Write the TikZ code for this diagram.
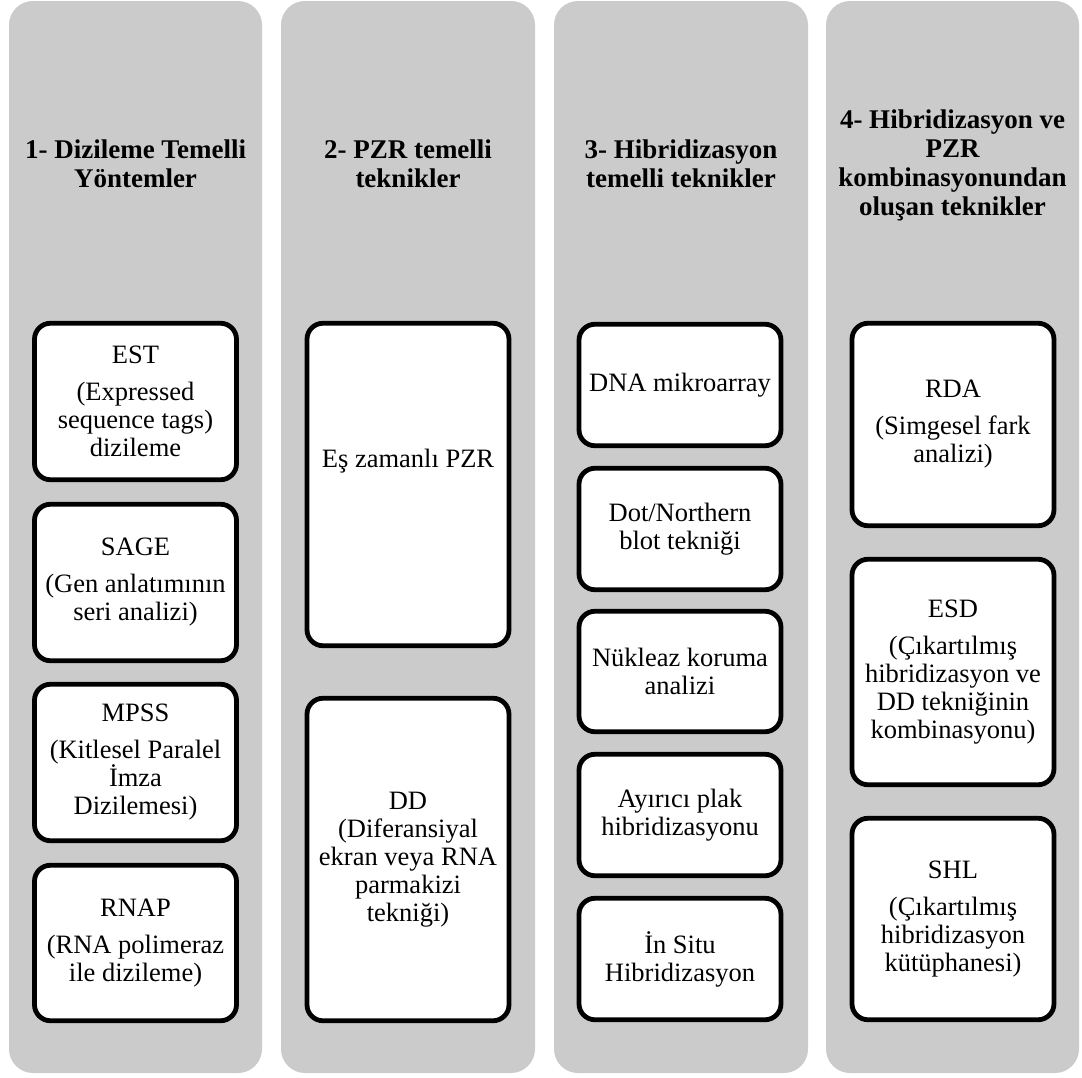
\documentclass[tikz,border=0pt]{standalone}
\usepackage{fontspec}
\setmainfont{Liberation Serif}
\definecolor{colgray}{RGB}{203,203,203}
\tikzset{
  colbox/.style={fill=colgray, rounded corners=24pt},
  item/.style={draw=black, fill=white, line width=4.8pt, rounded corners=16pt,
    inner sep=0pt, minimum width=202pt, align=center,
    font=\fontsize{26.5}{28}\selectfont},
  head/.style={align=center, font=\fontsize{27}{29}\selectfont\bfseries, inner sep=0pt},
  plain/.style={align=center, font=\fontsize{26.5}{28}\selectfont, inner sep=0pt}
}
\begin{document}
\begin{tikzpicture}[x=1pt,y=-1pt]
\useasboundingbox (0,0) rectangle (1082,1077);
% columns
\path[colbox] (9,1) rectangle (262,1073);
\path[colbox] (281,1) rectangle (535,1073);
\path[colbox] (554,1) rectangle (808,1073);
\path[colbox] (826,1) rectangle (1079,1073);
% headers
\node[head] (h1) at (135.5,164) {1- Dizileme Temelli\\Yöntemler};
\node[head] (h2) at (408,164) {2- PZR temelli\\teknikler};
\node[head] (h3) at (681,164) {3- Hibridizasyon\\temelli teknikler};
\node[head] (h4) at (952.5,165) {4- Hibridizasyon ve\\PZR\\kombinasyonundan\\oluşan teknikler};
% column 1
\node[item, minimum height=156.5pt] (est) at (135.5,401.5) {EST\\[9pt](Expressed\\sequence tags)\\dizileme};
\node[item, minimum height=156.5pt] (sage) at (135.5,582.5) {SAGE\\[9pt](Gen anlatımının\\seri analizi)};
\node[item, minimum height=156.5pt] (mpss) at (135.5,762.5) {MPSS\\[9pt](Kitlesel Paralel\\İmza\\Dizilemesi)};
\node[item, minimum height=155.5pt] (rnap) at (135.5,943) {RNAP\\[9pt](RNA polimeraz\\ile dizileme)};
% column 2
\node[item, minimum height=322.5pt] (ez) at (408,484.5) {};
\node[plain] (ezt) at ([yshift=23pt]ez.center) {Eş zamanlı PZR};
\node[item, minimum height=322.5pt] (dd) at (408,859.5) {DD\\(Diferansiyal\\ekran veya RNA\\parmakizi\\tekniği)};
% column 3
\node[item, minimum height=121.5pt] (dna) at (680,385) {DNA mikroarray};
\node[item, minimum height=121.5pt] (dot) at (680,529) {Dot/Northern\\blot tekniği};
\node[item, minimum height=120.5pt] (nuk) at (680,671.5) {Nükleaz koruma\\analizi};
\node[item, minimum height=121.5pt] (ayr) at (680,815) {Ayırıcı plak\\hibridizasyonu};
\node[item, minimum height=121.5pt] (ins) at (680,959) {İn Situ\\Hibridizasyon};
% column 4
\node[item, minimum height=202.5pt] (rda) at (953,424.5) {RDA\\[9pt](Simgesel fark\\analizi)};
\node[item, minimum height=225.5pt] (esd) at (953,672) {ESD\\[9pt](Çıkartılmış\\hibridizasyon ve\\DD tekniğinin\\kombinasyonu)};
\node[item, minimum height=201.5pt] (shl) at (953,919) {SHL\\[9pt](Çıkartılmış\\hibridizasyon\\kütüphanesi)};
\end{tikzpicture}
\end{document}
